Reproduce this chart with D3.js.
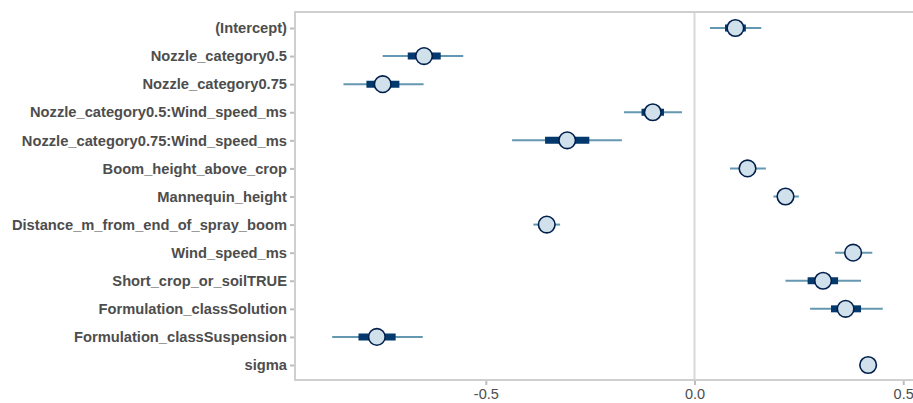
<!DOCTYPE html>
<html>
<head>
<meta charset="utf-8">
<script src="https://cdn.jsdelivr.net/npm/d3@7"></script>
<style>
  html, body { margin: 0; padding: 0; background: #ffffff; }
  svg { display: block; }
</style>
</head>
<body>
<svg id="chart" width="913" height="403"></svg>
<script>
// ---- data ----
const parameters = [
  "(Intercept)",
  "Nozzle_category0.5",
  "Nozzle_category0.75",
  "Nozzle_category0.5:Wind_speed_ms",
  "Nozzle_category0.75:Wind_speed_ms",
  "Boom_height_above_crop",
  "Mannequin_height",
  "Distance_m_from_end_of_spray_boom",
  "Wind_speed_ms",
  "Short_crop_or_soilTRUE",
  "Formulation_classSolution",
  "Formulation_classSuspension",
  "sigma"
];
const medians   = [0.098, -0.648, -0.747, -0.100, -0.305, 0.127, 0.218, -0.354, 0.380, 0.308, 0.362, -0.761, 0.416];
const innerLow  = [0.073, -0.687, -0.786, -0.127, -0.358, 0.112, 0.205, -0.365, 0.365, 0.271, 0.327, -0.805, 0.410];
const innerHigh = [0.123, -0.608, -0.707, -0.073, -0.252, 0.142, 0.232, -0.343, 0.395, 0.344, 0.399, -0.716, 0.422];
const outerLow  = [0.037, -0.747, -0.841, -0.169, -0.437, 0.085, 0.189, -0.386, 0.337, 0.218, 0.277, -0.868, 0.404];
const outerHigh = [0.160, -0.554, -0.649, -0.030, -0.174, 0.171, 0.250, -0.322, 0.426, 0.399, 0.451, -0.651, 0.428];
const xTicks = [-0.5, 0.0, 0.5];
const xTickLabels = ["-0.5", "0.0", "0.5"];

// ---- layout ----
const svg = d3.select("#chart");
const panel = { left: 295, right: 916, top: 12, bottom: 380 };

const x = d3.scaleLinear().domain([0, 0.5]).range([694.5, 903.2]);
const y = d3.scalePoint().domain(parameters).range([28, 365]);

const rows = parameters.map((p, i) => ({
  p, m: medians[i], il: innerLow[i], ih: innerHigh[i], ol: outerLow[i], oh: outerHigh[i]
}));

// vertical reference line at 0
svg.append("line")
  .attr("x1", x(0)).attr("x2", x(0))
  .attr("y1", panel.top).attr("y2", panel.bottom)
  .attr("stroke", "#d9d9d9").attr("stroke-width", 2);

// panel border
svg.append("rect")
  .attr("x", panel.left).attr("y", panel.top)
  .attr("width", panel.right - panel.left).attr("height", panel.bottom - panel.top)
  .attr("fill", "none").attr("stroke", "#cfcfcf").attr("stroke-width", 2);

// y axis
const yAxis = d3.axisLeft(y).tickSize(4).tickPadding(3);
const gy = svg.append("g").attr("transform", `translate(${panel.left - 1},0)`).call(yAxis);
gy.select(".domain").remove();
gy.selectAll(".tick line").attr("stroke", "#bdbdbd").attr("stroke-width", 2);
gy.selectAll(".tick text")
  .attr("fill", "#4d4d4d")
  .style("font-family", "'Liberation Sans', Arial, sans-serif")
  .style("font-weight", "bold")
  .style("font-size", "14.7px");

// x axis
const xAxis = d3.axisBottom(x).tickValues(xTicks).tickFormat((d, i) => xTickLabels[i]).tickSize(4).tickPadding(4);
const gx = svg.append("g").attr("transform", `translate(0,${panel.bottom + 1})`).call(xAxis);
gx.select(".domain").remove();
gx.selectAll(".tick line").attr("stroke", "#bdbdbd").attr("stroke-width", 2);
gx.selectAll(".tick text")
  .attr("fill", "#4d4d4d")
  .style("font-family", "'Liberation Sans', Arial, sans-serif")
  .style("font-size", "14.5px");

// outer intervals
svg.append("g").selectAll("line").data(rows).join("line")
  .attr("x1", d => x(d.ol)).attr("x2", d => x(d.oh))
  .attr("y1", d => y(d.p)).attr("y2", d => y(d.p))
  .attr("stroke", "#6497b1").attr("stroke-width", 2);

// inner intervals
svg.append("g").selectAll("line").data(rows).join("line")
  .attr("x1", d => x(d.il)).attr("x2", d => x(d.ih))
  .attr("y1", d => y(d.p)).attr("y2", d => y(d.p))
  .attr("stroke", "#03396c").attr("stroke-width", 7);

// points
svg.append("g").selectAll("circle").data(rows).join("circle")
  .attr("cx", d => x(d.m)).attr("cy", d => y(d.p))
  .attr("r", 8.3)
  .attr("fill", "#d1e1ec").attr("stroke", "#011f4b").attr("stroke-width", 1.6);
</script>
</body>
</html>
